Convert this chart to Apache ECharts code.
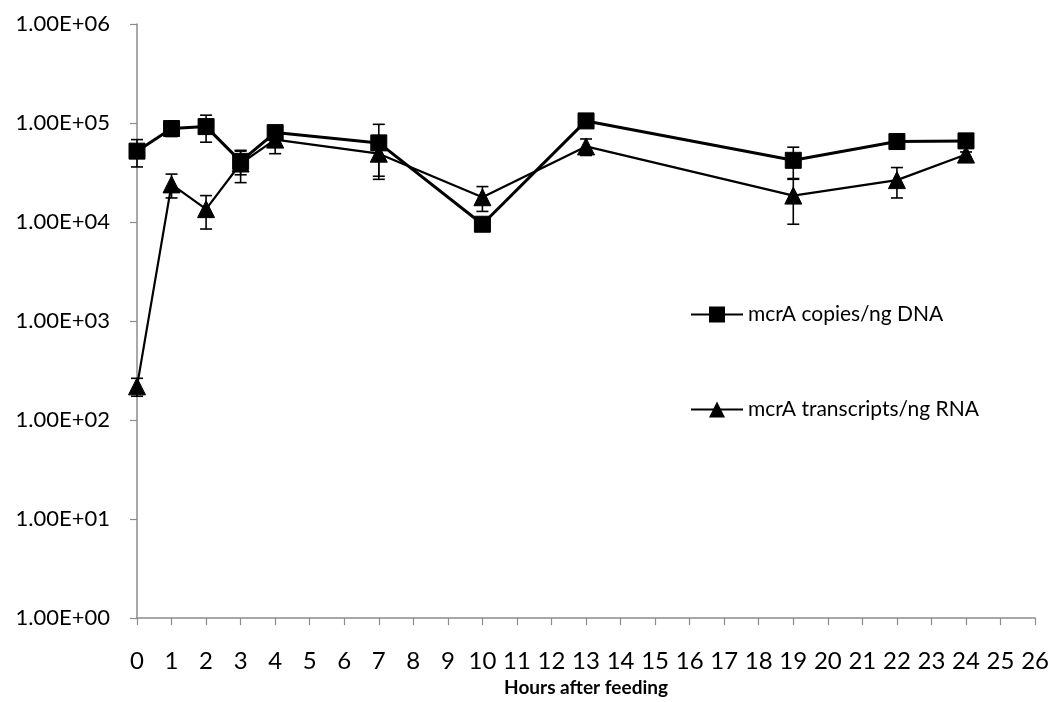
<!DOCTYPE html>
<html>
<head>
<meta charset="utf-8">
<script src="https://cdn.jsdelivr.net/npm/echarts@6/dist/echarts.min.js"></script>
<style>html,body{margin:0;padding:0;background:#fff}#c{width:1052px;height:702px}</style>
</head>
<body>
<div id="c"></div>
<script>
// ---- data ----
var hours = [0, 1, 2, 3, 4, 7, 10, 13, 19, 22, 24];
var dnaCopies = [52000, 88000, 92000, 41000, 80000, 63000, 9500, 105000, 42000, 65000, 66000];
var dnaError = [16000, 15000, 28000, 11000, 5000, 34000, 1000, 3000, 15000, 3000, 2000];
var rnaTranscripts = [219, 24000, 13500, 39000, 68000, 49000, 17800, 58000, 18500, 26500, 48000];
var rnaError = [45, 6500, 5000, 14000, 19000, 22000, 5000, 11000, 9000, 9000, 3000];
var seriesNames = ['mcrA copies/ng DNA', 'mcrA transcripts/ng RNA'];
var yTickLabels = ['1.00E+00', '1.00E+01', '1.00E+02', '1.00E+03', '1.00E+04', '1.00E+05', '1.00E+06'];
var xAxisTitle = 'Hours after feeding';

function pairs(xs, ys) { return xs.map(function (x, i) { return [x, ys[i]]; }); }
function errRows(xs, ys, es) { return xs.map(function (x, i) { return [x, ys[i] - es[i], ys[i] + es[i]]; }); }

function errRender(params, api) {
  var x = api.value(0);
  var lo = api.coord([x, api.value(1)]);
  var hi = api.coord([x, api.value(2)]);
  var hw = 6;
  var st = { stroke: '#000', lineWidth: 1.6 };
  return {
    type: 'group',
    children: [
      { type: 'line', shape: { x1: lo[0], y1: lo[1], x2: hi[0], y2: hi[1] }, style: st },
      { type: 'line', shape: { x1: lo[0] - hw, y1: lo[1], x2: lo[0] + hw, y2: lo[1] }, style: st },
      { type: 'line', shape: { x1: hi[0] - hw, y1: hi[1], x2: hi[0] + hw, y2: hi[1] }, style: st }
    ]
  };
}

var chart = echarts.init(document.getElementById('c'), null, { renderer: 'canvas' });
var axisGray = '#8c8c8c';
chart.setOption({
  animation: false,
  backgroundColor: '#fff',
  grid: { left: 137, right: 15, top: 24, bottom: 78, containLabel: false },
  legend: {
    orient: 'vertical',
    left: 685,
    top: 299,
    itemWidth: 52,
    itemHeight: 20,
    itemGap: 74,
    data: seriesNames,
    textStyle: { fontFamily: 'Lato', fontSize: 21, color: '#000', lineHeight: 20 }
  },
  xAxis: {
    type: 'value', min: 0, max: 26, interval: 1,
    name: xAxisTitle, nameLocation: 'middle', nameGap: 58,
    nameTextStyle: { fontFamily: 'Lato', fontWeight: 'bold', fontSize: 19, color: '#000' },
    axisLine: { show: true, lineStyle: { color: axisGray, width: 1.5 } },
    axisTick: { show: true, inside: false, length: 7, lineStyle: { color: axisGray, width: 1.2 } },
    axisLabel: { margin: 31, fontFamily: 'Lato', fontSize: 24, color: '#000' },
    splitLine: { show: false }
  },
  yAxis: {
    type: 'log', logBase: 10, min: 1, max: 1000000,
    axisLine: { show: true, lineStyle: { color: axisGray, width: 1.5 } },
    axisTick: { show: true, inside: false, length: 7, lineStyle: { color: axisGray, width: 1.2 } },
    axisLabel: {
      margin: 27, fontFamily: 'Lato', fontSize: 22, color: '#000',
      formatter: function (v) { return yTickLabels[Math.round(Math.log10(v))]; }
    },
    splitLine: { show: false }
  },
  series: [
    {
      type: 'custom', name: 'dnaErr', renderItem: errRender, z: 1,
      data: errRows(hours, dnaCopies, dnaError), encode: { x: 0, y: [1, 2] }, silent: true
    },
    {
      type: 'custom', name: 'rnaErr', renderItem: errRender, z: 1,
      data: errRows(hours, rnaTranscripts, rnaError), encode: { x: 0, y: [1, 2] }, silent: true
    },
    {
      type: 'line', name: seriesNames[0], data: pairs(hours, dnaCopies), z: 3,
      symbol: 'rect', symbolSize: 16,
      lineStyle: { color: '#000', width: 3 },
      itemStyle: { color: '#000', borderColor: '#000' }
    },
    {
      type: 'line', name: seriesNames[1], data: pairs(hours, rnaTranscripts), z: 3,
      symbol: 'triangle', symbolSize: 17,
      lineStyle: { color: '#000', width: 2.2 },
      itemStyle: { color: '#000', borderColor: '#000' }
    }
  ]
});
</script>
</body>
</html>
